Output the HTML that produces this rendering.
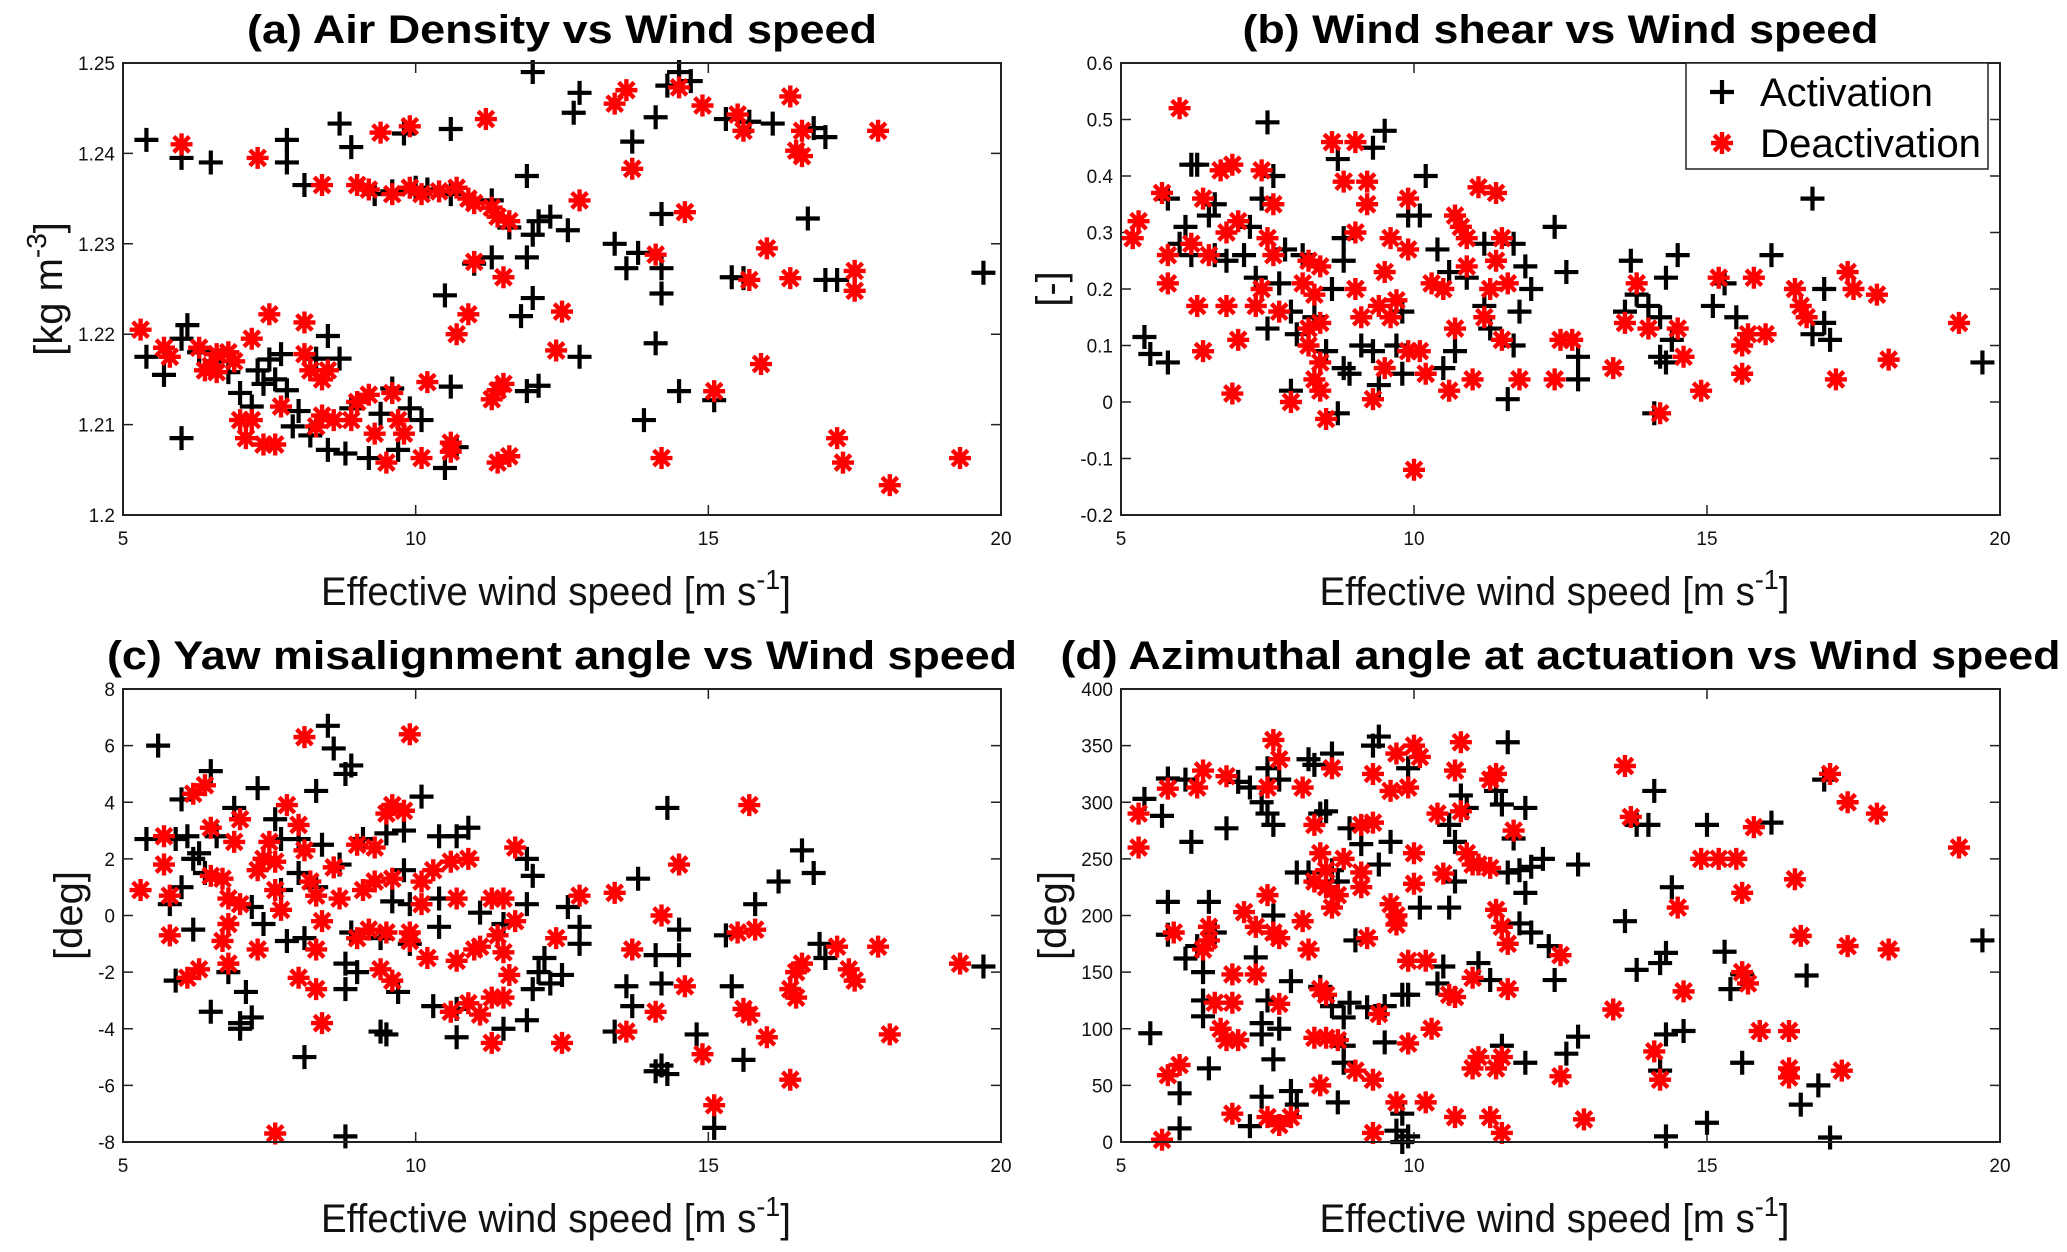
<!DOCTYPE html>
<html><head><meta charset="utf-8"><style>
html,body{margin:0;padding:0;background:#fff;}
svg{display:block;font-family:"Liberation Sans",sans-serif;}
</style></head><body>
<svg id="fig" width="2067" height="1252" viewBox="0 0 2067 1252" xmlns="http://www.w3.org/2000/svg"></svg>
<script>
const xTicks=[5,10,15,20];
const aYTicks=[1.2,1.21,1.22,1.23,1.24,1.25];
const aYLabels=["1.2","1.21","1.22","1.23","1.24","1.25"];
const bYTicks=[-0.2,-0.1,0,0.1,0.2,0.3,0.4,0.5,0.6];
const bYLabels=["-0.2","-0.1","0","0.1","0.2","0.3","0.4","0.5","0.6"];
const cYTicks=[-8,-6,-4,-2,0,2,4,6,8];
const cYLabels=["-8","-6","-4","-2","0","2","4","6","8"];
const dYTicks=[0,50,100,150,200,250,300,350,400];
const dYLabels=["0","50","100","150","200","250","300","350","400"];

const aAct=[[5.4,1.2415],[6.0,1.2395],[6.5,1.239],[7.8,1.2415],[7.8,1.239],[8.1,1.2365],[8.7,1.2433],[8.9,1.2407],[9.8,1.2422],[10.6,1.2427],[12.0,1.249],[12.7,1.2445],[12.8,1.2467],[11.9,1.2375],[14.3,1.2475],[14.5,1.249],[14.7,1.248],[14.1,1.244],[13.7,1.2413],[15.3,1.2438],[15.7,1.2435],[16.1,1.2433],[16.8,1.2428],[17.0,1.2418],[9.3,1.2355],[9.6,1.2358],[10.0,1.2362],[10.2,1.236],[10.6,1.2355],[11.3,1.2348],[11.6,1.2318],[12.0,1.231],[12.1,1.2325],[12.3,1.233],[12.6,1.2315],[14.2,1.2333],[16.7,1.2328],[13.4,1.230],[13.8,1.229],[13.6,1.2273],[14.2,1.2273],[14.2,1.2245],[11.0,1.2278],[11.3,1.2285],[11.9,1.2285],[10.5,1.2243],[12.0,1.224],[11.8,1.222],[14.1,1.219],[12.8,1.2175],[15.4,1.2263],[15.6,1.2262],[17.0,1.226],[17.2,1.226],[19.7,1.2268],[14.5,1.2137],[15.1,1.2127],[13.9,1.2105],[11.9,1.2137],[12.1,1.2143],[10.6,1.2142],[6.0,1.2085],[5.4,1.2175],[5.7,1.2155],[6.1,1.221],[6.0,1.2195],[6.3,1.218],[7.0,1.2135],[7.3,1.216],[7.4,1.2145],[7.2,1.212],[7.6,1.215],[7.8,1.2138],[7.7,1.2178],[8.3,1.2173],[8.5,1.2198],[8.7,1.2173],[7.9,1.2098],[8.2,1.2088],[8.5,1.2072],[8.8,1.2068],[9.2,1.2063],[9.7,1.2072],[9.6,1.214],[9.9,1.2118],[10.1,1.2105],[10.5,1.2052],[10.7,1.2075],[8.9,1.2118],[9.4,1.2112],[6.8,1.2158],[6.6,1.2170],[7.5,1.2172],[8.0,1.2115]];
const aDeact=[[6.0,1.241],[7.3,1.2395],[9.4,1.2423],[9.9,1.243],[11.2,1.2438],[13.4,1.2455],[13.6,1.247],[14.5,1.2473],[14.9,1.2453],[15.5,1.2443],[15.6,1.2425],[16.4,1.2463],[16.6,1.2425],[16.5,1.2403],[16.6,1.2397],[17.9,1.2425],[13.7,1.2383],[8.4,1.2365],[9.0,1.2365],[9.2,1.236],[9.6,1.2355],[9.9,1.2362],[10.1,1.2355],[10.4,1.2358],[10.7,1.2362],[10.9,1.2350],[11.0,1.2345],[11.3,1.2340],[11.4,1.233],[11.6,1.2325],[12.8,1.2348],[14.6,1.2335],[11.0,1.228],[11.5,1.2263],[14.1,1.2288],[16.0,1.2295],[15.7,1.226],[16.4,1.2262],[17.5,1.227],[17.5,1.2248],[10.9,1.2222],[10.7,1.220],[12.5,1.2225],[12.4,1.2182],[15.9,1.2167],[11.4,1.2138],[11.3,1.2128],[11.5,1.2145],[10.2,1.2147],[15.1,1.2137],[14.2,1.2063],[17.2,1.2085],[17.3,1.2058],[18.1,1.2033],[19.3,1.2063],[5.3,1.2205],[5.7,1.2185],[5.8,1.2175],[6.3,1.2185],[6.5,1.2165],[6.6,1.2178],[6.8,1.2180],[6.9,1.2170],[6.6,1.2158],[6.4,1.2160],[7.0,1.2105],[7.2,1.2105],[7.1,1.2085],[7.4,1.2078],[7.6,1.2078],[7.2,1.2195],[7.5,1.2222],[8.1,1.2213],[8.1,1.2178],[8.2,1.2160],[8.4,1.2150],[7.7,1.212],[8.4,1.211],[8.6,1.2105],[8.9,1.2105],[8.3,1.2098],[9.2,1.2133],[9.0,1.2125],[9.3,1.2090],[9.5,1.2058],[9.7,1.2105],[9.8,1.2090],[10.1,1.2063],[10.6,1.2070],[10.6,1.2080],[11.4,1.2058],[11.6,1.2065],[9.6,1.2135],[8.5,1.2160]];

const bAct=[[5.4,0.115],[5.5,0.085],[5.8,0.07],[5.8,0.36],[6.0,0.28],[6.1,0.31],[6.2,0.42],[6.3,0.42],[6.5,0.33],[6.6,0.35],[6.2,0.26],[6.6,0.26],[6.8,0.25],[7.2,0.31],[7.4,0.36],[7.5,0.495],[7.6,0.40],[7.1,0.26],[7.3,0.22],[7.5,0.13],[7.7,0.21],[7.8,0.27],[7.9,0.16],[8.0,0.12],[8.1,0.26],[8.3,0.15],[7.9,0.02],[8.5,0.09],[8.8,0.06],[8.9,0.05],[8.7,0.43],[9.3,0.45],[9.5,0.48],[8.8,0.29],[8.8,0.25],[9.1,0.10],[9.3,0.09],[8.6,0.20],[8.7,-0.02],[9.4,0.03],[9.9,0.33],[10.1,0.33],[10.2,0.40],[10.4,0.27],[9.8,0.16],[9.8,0.05],[9.7,0.10],[10.6,0.23],[10.9,0.22],[11.2,0.28],[11.2,0.17],[11.7,0.28],[11.9,0.24],[12.0,0.20],[11.8,0.16],[11.7,0.10],[12.4,0.31],[12.6,0.23],[12.8,0.08],[12.8,0.04],[11.3,0.13],[10.5,0.06],[10.7,0.09],[11.6,0.005],[13.7,0.25],[13.8,0.19],[13.6,0.16],[14.0,0.17],[14.3,0.22],[14.5,0.26],[14.2,0.15],[14.4,0.11],[14.2,0.08],[14.3,0.07],[14.1,-0.02],[15.1,0.17],[15.3,0.21],[15.5,0.15],[16.1,0.26],[16.8,0.36],[17.0,0.20],[17.0,0.14],[17.1,0.11],[16.8,0.12],[19.7,0.07]];
const bDeact=[[5.3,0.32],[5.2,0.29],[5.7,0.37],[5.8,0.26],[5.8,0.21],[6.0,0.52],[6.2,0.28],[6.4,0.36],[6.5,0.26],[6.3,0.17],[6.4,0.09],[6.7,0.41],[6.9,0.42],[6.8,0.30],[7.0,0.32],[6.8,0.17],[7.0,0.11],[6.9,0.015],[7.4,0.41],[7.6,0.35],[7.5,0.29],[7.6,0.26],[7.4,0.20],[7.3,0.17],[7.7,0.16],[7.9,0.00],[8.2,0.25],[8.4,0.24],[8.1,0.21],[8.3,0.19],[8.2,0.13],[8.4,0.14],[8.2,0.10],[8.4,0.07],[8.3,0.04],[8.4,0.02],[8.5,-0.03],[8.6,0.46],[8.8,0.39],[9.0,0.46],[9.2,0.39],[9.2,0.35],[9.0,0.30],[9.0,0.20],[9.1,0.15],[9.5,0.23],[9.6,0.29],[9.6,0.15],[9.4,0.17],[9.7,0.18],[9.9,0.27],[9.9,0.36],[9.5,0.06],[9.3,0.005],[9.9,0.09],[10.1,0.09],[10.0,-0.12],[10.2,0.05],[10.3,0.21],[10.5,0.20],[10.7,0.33],[10.8,0.31],[10.9,0.29],[10.7,0.13],[10.9,0.24],[11.1,0.38],[11.4,0.37],[11.5,0.29],[11.4,0.25],[11.3,0.20],[11.6,0.21],[11.2,0.15],[11.5,0.11],[11.0,0.04],[11.8,0.04],[10.6,0.02],[12.4,0.04],[12.5,0.11],[12.7,0.11],[13.4,0.06],[13.6,0.14],[13.8,0.21],[14.0,0.13],[14.2,-0.02],[14.5,0.13],[14.6,0.08],[14.9,0.02],[15.2,0.22],[15.6,0.10],[15.7,0.12],[15.6,0.05],[15.8,0.22],[16.0,0.12],[16.5,0.20],[16.6,0.17],[16.7,0.15],[17.2,0.04],[17.4,0.23],[17.5,0.20],[17.9,0.19],[18.1,0.075],[19.3,0.14]];

const cAct=[[5.4,2.7],[5.6,6.0],[5.9,2.7],[6.0,4.1],[6.1,2.8],[6.2,2.0],[6.3,2.2],[6.4,1.5],[6.5,5.1],[6.6,2.8],[5.8,0.4],[6.0,1.0],[6.2,-0.5],[5.9,-2.3],[6.5,-3.4],[6.9,3.8],[7.3,4.5],[7.6,3.4],[7.7,2.7],[8.0,2.7],[8.3,4.4],[8.4,2.5],[8.5,6.7],[8.6,5.9],[8.9,5.3],[8.8,5.0],[9.1,2.7],[9.5,2.9],[9.8,3.0],[10.1,4.2],[10.4,2.8],[10.7,2.8],[10.9,3.1],[7.2,0.3],[7.4,-0.3],[7.7,0.9],[7.8,-0.9],[8.1,-0.8],[8.0,1.5],[8.3,1.0],[8.7,1.8],[8.9,-0.6],[9.0,-2.0],[8.8,-1.7],[8.8,-2.6],[9.4,-0.8],[9.6,0.5],[9.8,1.6],[9.9,0.4],[9.9,-1.0],[10.4,-0.4],[10.4,0.6],[10.3,-3.2],[10.7,-3.3],[10.7,-4.3],[11.1,0.1],[11.5,-0.3],[11.9,2.0],[12.0,1.4],[11.9,0.4],[12.1,-2.0],[12.2,-1.5],[12.0,-2.6],[12.3,-2.4],[12.5,-2.1],[12.6,0.3],[12.8,-0.4],[12.8,-1.0],[11.5,-4.0],[11.9,-3.7],[7.1,-2.7],[7.0,-3.8],[7.2,-3.6],[7.0,-4.0],[6.8,-2.0],[8.1,-5.0],[9.4,-4.1],[9.5,-4.2],[9.7,-2.7],[8.8,-7.8],[13.4,-4.1],[13.6,-2.5],[13.7,-3.2],[13.8,1.3],[14.1,-1.4],[14.2,-2.4],[14.3,3.8],[14.5,-1.4],[14.5,-0.5],[14.1,-5.5],[14.2,-5.3],[14.3,-5.6],[14.8,-4.2],[15.3,-0.7],[15.4,-2.5],[15.6,-5.1],[15.1,-7.5],[15.8,0.4],[16.2,1.2],[16.6,2.3],[16.8,1.5],[16.9,-1.0],[17.0,-1.5],[19.7,-1.8]];
const cDeact=[[5.3,0.9],[5.7,2.8],[5.7,1.8],[5.8,0.7],[5.8,-0.7],[6.1,-2.2],[6.3,-1.9],[6.2,4.3],[6.4,4.6],[6.5,3.1],[6.5,1.4],[6.7,1.3],[6.9,2.6],[7.0,3.4],[6.8,0.6],[7.0,0.4],[6.8,-0.3],[6.7,-0.9],[6.8,-1.7],[7.3,1.6],[7.4,2.0],[7.5,2.6],[7.6,1.9],[7.6,0.9],[7.7,0.2],[7.3,-1.2],[7.8,3.9],[8.0,3.2],[8.1,2.3],[8.2,1.2],[8.3,0.7],[8.4,-0.2],[8.6,1.7],[8.7,0.6],[8.0,-2.2],[8.3,-1.2],[8.3,-2.6],[8.4,-3.8],[8.1,6.3],[9.0,2.5],[9.3,2.4],[9.1,0.9],[9.3,1.2],[9.6,1.3],[9.0,-0.8],[9.2,-0.5],[9.5,-0.6],[9.4,-1.9],[9.6,-2.3],[9.5,3.6],[9.6,3.9],[9.8,3.7],[9.9,-0.6],[9.9,-0.9],[10.1,0.4],[10.1,1.2],[10.3,1.6],[10.6,1.9],[10.9,2.0],[9.9,6.4],[10.2,-1.5],[10.7,-1.6],[10.7,0.6],[11.0,-1.2],[11.1,-1.1],[10.6,-3.4],[10.9,-3.1],[11.1,-3.5],[11.3,0.6],[11.5,0.6],[11.4,-0.7],[11.5,-1.3],[11.6,-2.1],[11.3,-2.9],[11.5,-2.9],[11.3,-4.5],[11.7,2.4],[11.7,-0.2],[12.4,-0.8],[12.8,0.7],[12.5,-4.5],[13.4,0.8],[13.7,-1.2],[13.6,-4.1],[14.1,-3.4],[14.2,0.0],[14.5,1.8],[14.6,-2.5],[14.9,-4.9],[15.1,-6.7],[15.5,-0.6],[15.8,-0.5],[15.6,-3.3],[15.7,-3.5],[15.7,3.9],[16.0,-4.3],[16.4,-2.6],[16.5,-2.0],[16.6,-1.7],[16.5,-2.9],[16.4,-5.8],[17.2,-1.1],[17.4,-1.9],[17.5,-2.3],[17.9,-1.1],[18.1,-4.2],[19.3,-1.7],[7.6,-7.7]];

const dAct=[[5.4,303],[5.5,96],[5.7,288],[5.8,321],[5.8,212],[5.8,183],[6.0,43],[6.0,12],[6.1,320],[6.2,265],[6.1,162],[6.3,173],[6.4,150],[6.4,125],[6.4,111],[6.5,212],[6.6,185],[6.5,65],[6.8,277],[7.0,318],[7.2,313],[7.3,163],[7.4,300],[7.5,290],[7.5,330],[7.5,125],[7.4,105],[7.4,95],[7.4,40],[7.2,14],[7.7,320],[7.6,280],[7.6,200],[7.6,73],[7.7,100],[7.9,45],[8.0,33],[7.9,142],[8.2,338],[8.3,333],[8.0,238],[8.2,238],[8.5,292],[8.6,343],[8.4,290],[8.6,240],[8.7,230],[8.4,137],[8.6,120],[8.8,110],[8.9,123],[8.8,85],[8.8,70],[8.7,35],[8.9,277],[9.1,263],[9.3,350],[9.4,358],[9.4,245],[9.6,265],[9.0,178],[9.2,119],[9.5,120],[9.5,88],[9.8,130],[9.9,130],[9.7,10],[9.8,0],[9.9,5],[9.8,25],[9.9,330],[10.1,207],[10.4,140],[10.5,155],[10.6,207],[10.6,280],[10.7,265],[10.8,306],[10.9,295],[10.7,230],[11.1,158],[11.3,143],[11.6,353],[11.4,310],[11.5,298],[11.6,238],[11.8,240],[11.7,268],[11.9,295],[11.9,220],[12.0,243],[11.8,193],[12.0,185],[11.5,85],[11.9,70],[12.2,250],[12.3,173],[12.4,143],[12.6,78],[12.8,93],[12.8,245],[13.6,195],[13.8,152],[13.8,280],[14.0,280],[14.1,310],[14.2,158],[14.3,167],[14.4,225],[14.3,95],[14.6,98],[14.2,63],[14.3,5],[15.0,280],[15.0,17],[15.3,168],[15.4,135],[15.6,148],[15.6,70],[16.1,282],[16.7,147],[16.6,33],[16.9,50],[17.0,320],[17.1,4],[19.7,178]];
const dDeact=[[5.3,260],[5.3,290],[5.7,2],[5.8,312],[5.8,59],[5.9,185],[6.0,68],[6.3,313],[6.4,328],[6.4,170],[6.5,178],[6.5,190],[6.6,123],[6.7,100],[6.8,90],[6.9,148],[6.8,323],[6.9,123],[7.0,90],[6.9,25],[7.1,203],[7.3,190],[7.3,148],[7.5,218],[7.5,313],[7.6,355],[7.7,338],[7.6,185],[7.7,180],[7.7,122],[7.5,22],[7.7,15],[7.9,22],[8.1,313],[8.1,195],[8.3,280],[8.2,170],[8.4,255],[8.3,230],[8.5,225],[8.5,240],[8.6,330],[8.6,207],[8.7,218],[8.8,250],[8.4,135],[8.5,130],[8.3,92],[8.5,92],[8.7,90],[8.4,50],[9.1,238],[9.1,225],[9.1,280],[9.3,282],[9.3,325],[9.0,63],[9.3,55],[9.2,180],[9.4,113],[9.6,310],[9.7,343],[9.7,200],[9.7,192],[9.6,210],[9.9,160],[9.9,87],[9.7,35],[9.3,8],[10.0,350],[10.1,340],[9.9,313],[10.0,255],[10.0,228],[10.2,160],[10.4,290],[10.3,100],[10.5,237],[10.7,128],[10.6,130],[10.8,353],[10.7,328],[10.8,292],[10.9,255],[11.0,245],[11.1,245],[11.3,242],[11.3,320],[11.4,325],[11.7,275],[11.4,205],[11.5,190],[11.6,175],[11.6,135],[11.0,145],[11.0,65],[11.1,75],[11.4,65],[11.5,75],[10.7,22],[11.3,22],[11.5,8],[10.2,35],[12.5,58],[12.5,165],[12.9,20],[13.4,117],[13.6,332],[13.7,287],[14.1,80],[14.2,55],[14.5,207],[14.6,133],[14.9,250],[15.2,250],[15.5,250],[15.6,220],[15.8,278],[15.6,150],[15.7,140],[15.9,98],[16.4,98],[16.4,65],[16.4,57],[16.5,232],[16.6,182],[17.1,325],[17.3,63],[17.4,300],[17.4,173],[17.9,290],[18.1,170],[19.3,260]];

const NS="http://www.w3.org/2000/svg";
const svg=document.getElementById('fig');
function mk(tag,attrs,parent){const e=document.createElementNS(NS,tag);for(const k in attrs)e.setAttribute(k,attrs[k]);(parent||svg).appendChild(e);return e;}

const panels=[
 {id:'a',L:123,R:1001,T:63,B:515,ymin:1.2,ymax:1.25,yt:aYTicks,yl:aYLabels,act:aAct,de:aDeact,title:'(a) Air Density vs Wind speed',tw:630,ylab:'[kg m',ysup:'-3',ylx:48},
 {id:'b',L:1121,R:2000,T:63,B:515,ymin:-0.2,ymax:0.6,yt:bYTicks,yl:bYLabels,act:bAct,de:bDeact,title:'(b) Wind shear vs Wind speed',tw:636,ylab:'[-]',ysup:'',ylx:1050},
 {id:'c',L:123,R:1001,T:689,B:1142,ymin:-8,ymax:8,yt:cYTicks,yl:cYLabels,act:cAct,de:cDeact,title:'(c) Yaw misalignment angle vs Wind speed',tw:910,ylab:'[deg]',ysup:'',ylx:68},
 {id:'d',L:1121,R:2000,T:689,B:1142,ymin:0,ymax:400,yt:dYTicks,yl:dYLabels,act:dAct,de:dDeact,title:'(d) Azimuthal angle at actuation vs Wind speed',tw:1000,ylab:'[deg]',ysup:'',ylx:1052}
];

function plus(g,x,y){const p=mk('path',{d:`M${x-12},${y}H${x+12}M${x},${y-12}V${y+12}`,stroke:'#000','stroke-width':4.2,fill:'none'},g);

}
function star(g,x,y){const r=11,q=7.8;const p=mk('path',{d:`M${x-r},${y}H${x+r}M${x},${y-r}V${y+r}M${x-q},${y-q}L${x+q},${y+q}M${x-q},${y+q}L${x+q},${y-q}`,stroke:'#f00','stroke-width':4.4,fill:'none'},g);

}

panels.forEach(P=>{
 const g=mk('g',{});
 
 
 const sx=v=>P.L+(v-5)/15*(P.R-P.L);
 const sy=v=>P.B-(v-P.ymin)/(P.ymax-P.ymin)*(P.B-P.T);
 const cx=(P.L+P.R)/2;
 const t=mk('text',{x:cx,y:P.T-20,'text-anchor':'middle','font-size':40,'font-weight':'bold',textLength:P.tw,lengthAdjust:'spacingAndGlyphs'},g);
 t.textContent=P.title;
 
 
 xTicks.forEach(v=>{const x=sx(v);
  mk('path',{d:`M${x},${P.B}V${P.B-10}M${x},${P.T}V${P.T+10}`,stroke:'#222','stroke-width':1.5},g);
  const tl=mk('text',{x:x,y:P.B+30,'text-anchor':'middle','font-size':19,fill:'#111'},g);tl.textContent=String(v);
  
  });
 P.yt.forEach((v,i)=>{const y=sy(v);
  mk('path',{d:`M${P.L},${y}H${P.L+10}M${P.R},${y}H${P.R-10}`,stroke:'#222','stroke-width':1.5},g);
  const tl=mk('text',{x:P.L-8,y:y+7,'text-anchor':'end','font-size':19,fill:'#111'},g);tl.textContent=P.yl[i];
  
  });
 const pts=mk('g',{},g);
 P.act.forEach(d=>plus(pts,sx(d[0]),sy(d[1])));
 P.de.forEach(d=>star(pts,sx(d[0]),sy(d[1])));
 const box=mk('rect',{x:P.L,y:P.T,width:P.R-P.L,height:P.B-P.T,fill:'none',stroke:'#222','stroke-width':2},g);
 
 
 const xl=mk('text',{x:cx-6,y:P.B+90,'text-anchor':'middle','font-size':40,fill:'#111',textLength:470,lengthAdjust:'spacingAndGlyphs'},g);
 xl.innerHTML='Effective wind speed [m s<tspan dy="-16" font-size="28">-1</tspan><tspan dy="16">]</tspan>';
 
 
 const ymid=(P.T+P.B)/2;
 const yl=mk('text',{x:0,y:0,'text-anchor':'middle','font-size':40,fill:'#111',transform:`translate(${P.ylx+14},${ymid}) rotate(-90)`},g);
 yl.innerHTML=P.ysup?`${P.ylab}<tspan dy="-16" font-size="28">${P.ysup}</tspan><tspan dy="16">]</tspan>`:P.ylab;
 
 
});

const lg=mk('g',{});


mk('rect',{x:1686,y:63,width:302,height:106,fill:'#fff',stroke:'#222','stroke-width':1.5},lg);
const e1=mk('g',{},lg);


plus(e1,1722,92);
const t1=mk('text',{x:1760,y:106,'font-size':40,textLength:173,lengthAdjust:'spacingAndGlyphs'},e1);t1.textContent='Activation';
const e2=mk('g',{},lg);


star(e2,1722,143);
const t2=mk('text',{x:1760,y:157,'font-size':40,textLength:221,lengthAdjust:'spacingAndGlyphs'},e2);t2.textContent='Deactivation';
</script>
</body></html>
